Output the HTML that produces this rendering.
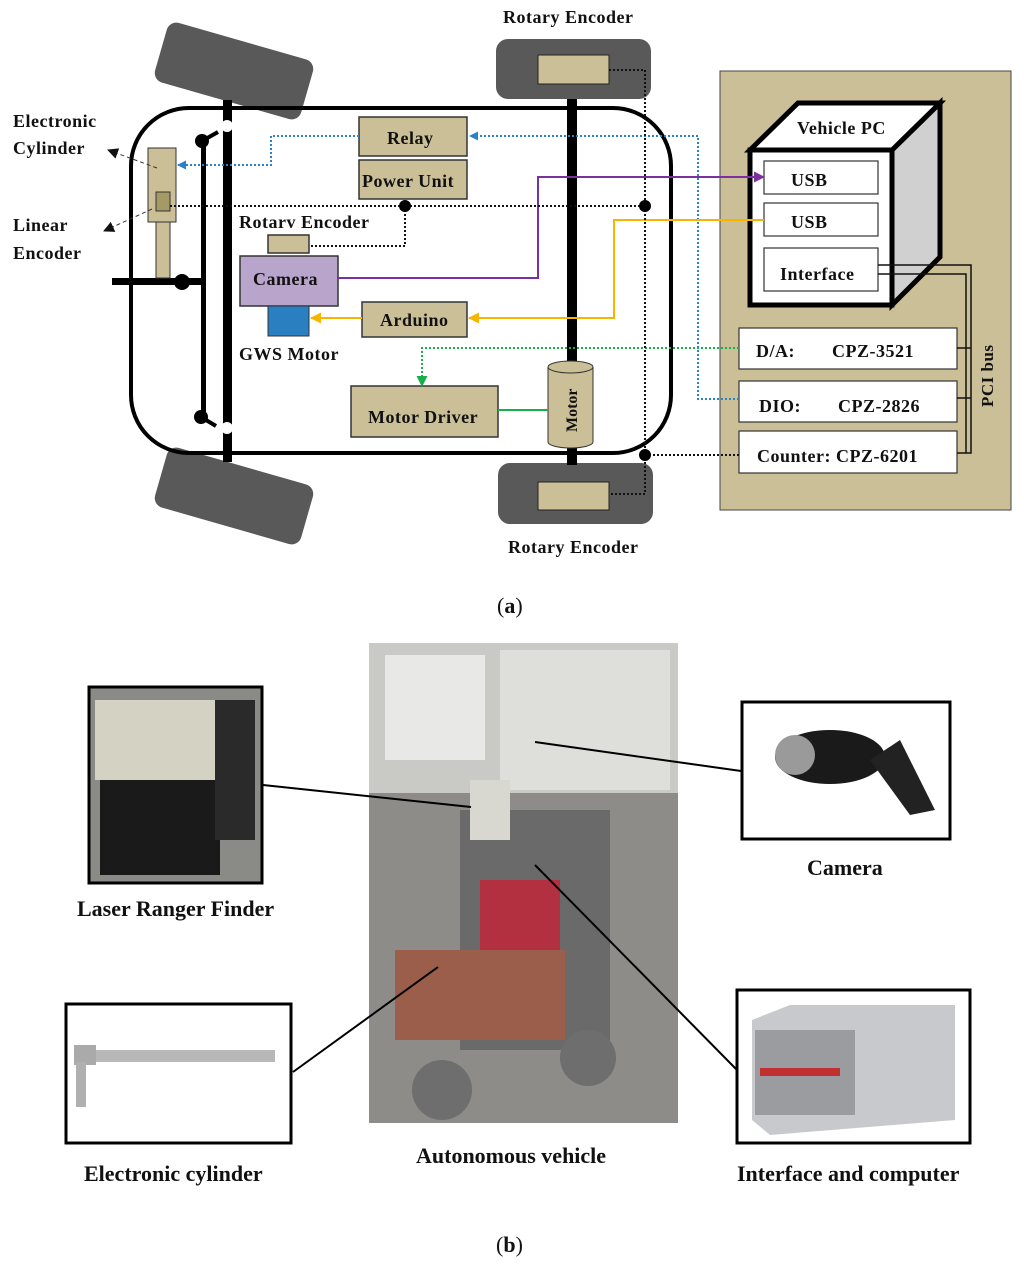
<!DOCTYPE html>
<html><head><meta charset="utf-8"><style>
html,body{margin:0;padding:0;background:#fff}
svg{display:block}
text{font-family:"Liberation Serif",serif;font-weight:bold;fill:#111}
.a text{font-size:18px;letter-spacing:0.5px}
</style></head><body>
<svg width="1024" height="1264" viewBox="0 0 1024 1264" xmlns="http://www.w3.org/2000/svg">
<defs>
<marker id="ab" markerWidth="9" markerHeight="9" refX="8" refY="4.5" orient="auto" markerUnits="userSpaceOnUse"><path d="M0,0 L9,4.5 L0,9z" fill="#2a82c8"/></marker>
<marker id="ap" markerWidth="11" markerHeight="11" refX="10" refY="5.5" orient="auto" markerUnits="userSpaceOnUse"><path d="M0,0 L11,5.5 L0,11z" fill="#7b2fa0"/></marker>
<marker id="ao" markerWidth="11" markerHeight="11" refX="10" refY="5.5" orient="auto" markerUnits="userSpaceOnUse"><path d="M0,0 L11,5.5 L0,11z" fill="#f7b500"/></marker>
<marker id="ag" markerWidth="11" markerHeight="11" refX="10" refY="5.5" orient="auto" markerUnits="userSpaceOnUse"><path d="M0,0 L11,5.5 L0,11z" fill="#18b04a"/></marker>
<marker id="ak" markerWidth="11" markerHeight="11" refX="10" refY="5.5" orient="auto" markerUnits="userSpaceOnUse"><path d="M0,0 L11,5.5 L0,11z" fill="#111"/></marker>
</defs>
<g class="a">
<!-- left wheels -->
<rect x="158" y="40" width="152" height="62" rx="10" fill="#595959" transform="rotate(16 234 71)"/>
<rect x="158" y="465" width="152" height="62" rx="10" fill="#595959" transform="rotate(16 234 496)"/>
<!-- right wheels -->
<rect x="496" y="39" width="155" height="60" rx="12" fill="#595959"/>
<rect x="538" y="55" width="71" height="29" fill="#cbbf98" stroke="#222"/>
<rect x="498" y="463" width="155" height="61" rx="12" fill="#595959"/>
<rect x="538" y="482" width="71" height="28" fill="#cbbf98" stroke="#222"/>
<!-- body -->
<rect x="131" y="108" width="540" height="345" rx="58" fill="none" stroke="#000" stroke-width="4"/>
<!-- rear axle -->
<rect x="567" y="99" width="10" height="366" fill="#000"/>
<!-- front axle -->
<rect x="223" y="100" width="9" height="362" fill="#000"/>
<circle cx="227" cy="126" r="6" fill="#fff"/><circle cx="227" cy="428" r="6" fill="#fff"/>
<rect x="201" y="140" width="5" height="278" fill="#000"/>
<circle cx="202" cy="141" r="7" fill="#000"/><circle cx="201" cy="417" r="7" fill="#000"/>
<line x1="202" y1="141" x2="218" y2="132" stroke="#000" stroke-width="4"/>
<line x1="201" y1="417" x2="216" y2="426" stroke="#000" stroke-width="4"/>
<rect x="112" y="278" width="90" height="7" fill="#000"/>
<!-- cylinder -->
<rect x="156" y="222" width="14" height="56" fill="#cbbf98" stroke="#333"/>
<rect x="148" y="148" width="28" height="74" fill="#cbbf98" stroke="#333"/>
<rect x="156" y="192" width="14" height="19" fill="#a39a66" stroke="#333"/>
<circle cx="182" cy="282" r="8" fill="#000"/>
<!-- dashed pointers -->
<line x1="157" y1="168" x2="108" y2="150" stroke="#333" stroke-dasharray="4,3" marker-end="url(#ak)"/>
<line x1="152" y1="209" x2="104" y2="231" stroke="#333" stroke-dasharray="4,3" marker-end="url(#ak)"/>
<!-- boxes -->
<g fill="#cbbf98" stroke="#333" stroke-width="1.5">
<rect x="359" y="117" width="108" height="39"/>
<rect x="359" y="160" width="108" height="39"/>
<rect x="268" y="235" width="41" height="18"/>
<rect x="362" y="302" width="105" height="35"/>
<rect x="351" y="386" width="147" height="51"/>
</g>
<rect x="240" y="256" width="98" height="50" fill="#b9a4cb" stroke="#333" stroke-width="1.5"/>
<rect x="268" y="306" width="41" height="30" fill="#2a7fc0" stroke="#333"/>
<!-- motor cylinder -->
<path d="M548,367 L548,442 A22.5,6 0 0 0 593,442 L593,367" fill="#cbbf98" stroke="#333"/>
<ellipse cx="570.5" cy="367" rx="22.5" ry="6" fill="#cbbf98" stroke="#333"/>
<text x="0" y="0" style="font-size:16px;letter-spacing:0" transform="translate(577 432) rotate(-90)">Motor</text>
<!-- PC panel -->
<rect x="720" y="71" width="291" height="439" fill="#cbbf98" stroke="#444"/>
<polygon points="892,150 940,103 940,257 892,305" fill="#d0d0d0" stroke="#000" stroke-width="5"/>
<polygon points="750,150 798,103 940,103 892,150" fill="#fff" stroke="#000" stroke-width="5"/>
<rect x="750" y="150" width="142" height="155" fill="#fff" stroke="#000" stroke-width="5"/>
<g fill="#fff" stroke="#333" stroke-width="1.2">
<rect x="764" y="161" width="114" height="33"/>
<rect x="764" y="203" width="114" height="33"/>
<rect x="764" y="248" width="114" height="43"/>
<rect x="739" y="328" width="218" height="41"/>
<rect x="739" y="381" width="218" height="41"/>
<rect x="739" y="431" width="218" height="42"/>
</g>
<g fill="none" stroke="#111" stroke-width="1.5">
<polyline points="878,265 971,265 971,453 957,453"/>
<polyline points="878,274 966,274 966,453"/>
<line x1="957" y1="348" x2="971" y2="348"/>
<line x1="957" y1="398" x2="971" y2="398"/>
</g>
<text x="0" y="0" style="font-size:17px;letter-spacing:0.5px" transform="translate(993 407) rotate(-90)">PCI bus</text>
<!-- connectors -->
<polyline points="739,399 698,399 698,136 470,136" fill="none" stroke="#2a82c8" stroke-width="2" stroke-dasharray="2,2" marker-end="url(#ab)"/>
<polyline points="359,136 271,136 271,165 178,165" fill="none" stroke="#2a82c8" stroke-width="2" stroke-dasharray="2,2" marker-end="url(#ab)"/>
<polyline points="338,278 538,278 538,177 764,177" fill="none" stroke="#7b2fa0" stroke-width="2" marker-end="url(#ap)"/>
<polyline points="764,220 614,220 614,318 469,318" fill="none" stroke="#f7b500" stroke-width="2" marker-end="url(#ao)"/>
<line x1="362" y1="318" x2="311" y2="318" stroke="#f7b500" stroke-width="2" marker-end="url(#ao)"/>
<polyline points="739,348 422,348 422,386" fill="none" stroke="#18b04a" stroke-width="2" stroke-dasharray="2,2" marker-end="url(#ag)"/>
<line x1="498" y1="410" x2="548" y2="410" stroke="#18b04a" stroke-width="2"/>
<g fill="none" stroke="#111" stroke-width="2" stroke-dasharray="2,2">
<line x1="170" y1="206" x2="645" y2="206"/>
<polyline points="405,206 405,246 309,246"/>
<polyline points="609,70 645,70 645,494 609,494"/>
<line x1="645" y1="455" x2="739" y2="455"/>
</g>
<circle cx="405" cy="206" r="6" fill="#000"/>
<circle cx="645" cy="206" r="6" fill="#000"/>
<circle cx="645" cy="455" r="6" fill="#000"/>
<!-- labels -->
<text x="503" y="23">Rotary Encoder</text>
<text x="508" y="553">Rotary Encoder</text>
<text x="13" y="127">Electronic</text>
<text x="13" y="154">Cylinder</text>
<text x="13" y="231">Linear</text>
<text x="13" y="259">Encoder</text>
<text x="387" y="144">Relay</text>
<text x="362" y="187">Power Unit</text>
<text x="239" y="228">Rotarv Encoder</text>
<text x="253" y="285">Camera</text>
<text x="380" y="326">Arduino</text>
<text x="239" y="360">GWS Motor</text>
<text x="368" y="423">Motor Driver</text>
<text x="797" y="134">Vehicle PC</text>
<text x="791" y="186">USB</text>
<text x="791" y="228">USB</text>
<text x="780" y="280">Interface</text>
<text x="756" y="357">D/A:</text><text x="832" y="357">CPZ-3521</text>
<text x="759" y="412">DIO:</text><text x="838" y="412">CPZ-2826</text>
<text x="757" y="462">Counter: CPZ-6201</text>
</g>
<text x="497" y="613" font-size="22" style="font-weight:normal">(<tspan style="font-weight:bold">a</tspan>)</text>
<!-- part b -->
<rect x="369" y="643" width="309" height="480" fill="#8e8c88"/>
<rect x="369" y="643" width="309" height="150" fill="#c9c9c6"/>
<rect x="385" y="655" width="100" height="105" fill="#e8e8e6"/>
<rect x="500" y="650" width="170" height="140" fill="#dededb"/>
<rect x="460" y="810" width="150" height="240" fill="#6a6a6a"/>
<rect x="480" y="880" width="80" height="110" fill="#b33040"/>
<rect x="395" y="950" width="170" height="90" fill="#9a5e4a"/>
<circle cx="442" cy="1090" r="30" fill="#6e6e6e"/>
<circle cx="588" cy="1058" r="28" fill="#6e6e6e"/>
<rect x="470" y="780" width="40" height="60" fill="#d8d8d0"/>
<!-- laser -->
<rect x="89" y="687" width="173" height="196" fill="#8a8a86" stroke="#000" stroke-width="3"/>
<rect x="95" y="700" width="120" height="80" fill="#d4d2c2"/>
<rect x="100" y="780" width="120" height="95" fill="#1a1a1a"/>
<rect x="215" y="700" width="40" height="140" fill="#2a2a2a"/>
<!-- camera -->
<rect x="742" y="702" width="208" height="137" fill="#fff" stroke="#000" stroke-width="3"/>
<ellipse cx="830" cy="757" rx="55" ry="27" fill="#1a1a1a"/>
<polygon points="870,760 900,740 935,810 910,815" fill="#222"/>
<circle cx="795" cy="755" r="20" fill="#9a9a9a"/>
<!-- cylinder -->
<rect x="66" y="1004" width="225" height="139" fill="#fff" stroke="#000" stroke-width="3"/>
<rect x="95" y="1050" width="180" height="12" fill="#b8b8b8"/>
<rect x="74" y="1045" width="22" height="20" fill="#aaa"/>
<rect x="76" y="1062" width="10" height="45" fill="#b0b0b0"/>
<!-- interface -->
<rect x="737" y="990" width="233" height="153" fill="#fff" stroke="#000" stroke-width="3"/>
<polygon points="752,1020 790,1005 955,1005 955,1120 770,1135 752,1120" fill="#c8c9cc"/>
<rect x="755" y="1030" width="100" height="85" fill="#9a9ca0"/>
<rect x="760" y="1068" width="80" height="8" fill="#c03030"/>
<!-- leader lines -->
<g stroke="#000" stroke-width="2">
<line x1="263" y1="785" x2="471" y2="807"/>
<line x1="741" y1="771" x2="535" y2="742"/>
<line x1="293" y1="1072" x2="438" y2="967"/>
<line x1="737" y1="1070" x2="535" y2="865"/>
</g>
<g font-size="22">
<text x="77" y="916">Laser Ranger Finder</text>
<text x="807" y="875">Camera</text>
<text x="84" y="1181">Electronic cylinder</text>
<text x="416" y="1163">Autonomous vehicle</text>
<text x="737" y="1181">Interface and computer</text>
</g>
<text x="496" y="1252" font-size="22" style="font-weight:normal">(<tspan style="font-weight:bold">b</tspan>)</text>
</svg>
</body></html>
